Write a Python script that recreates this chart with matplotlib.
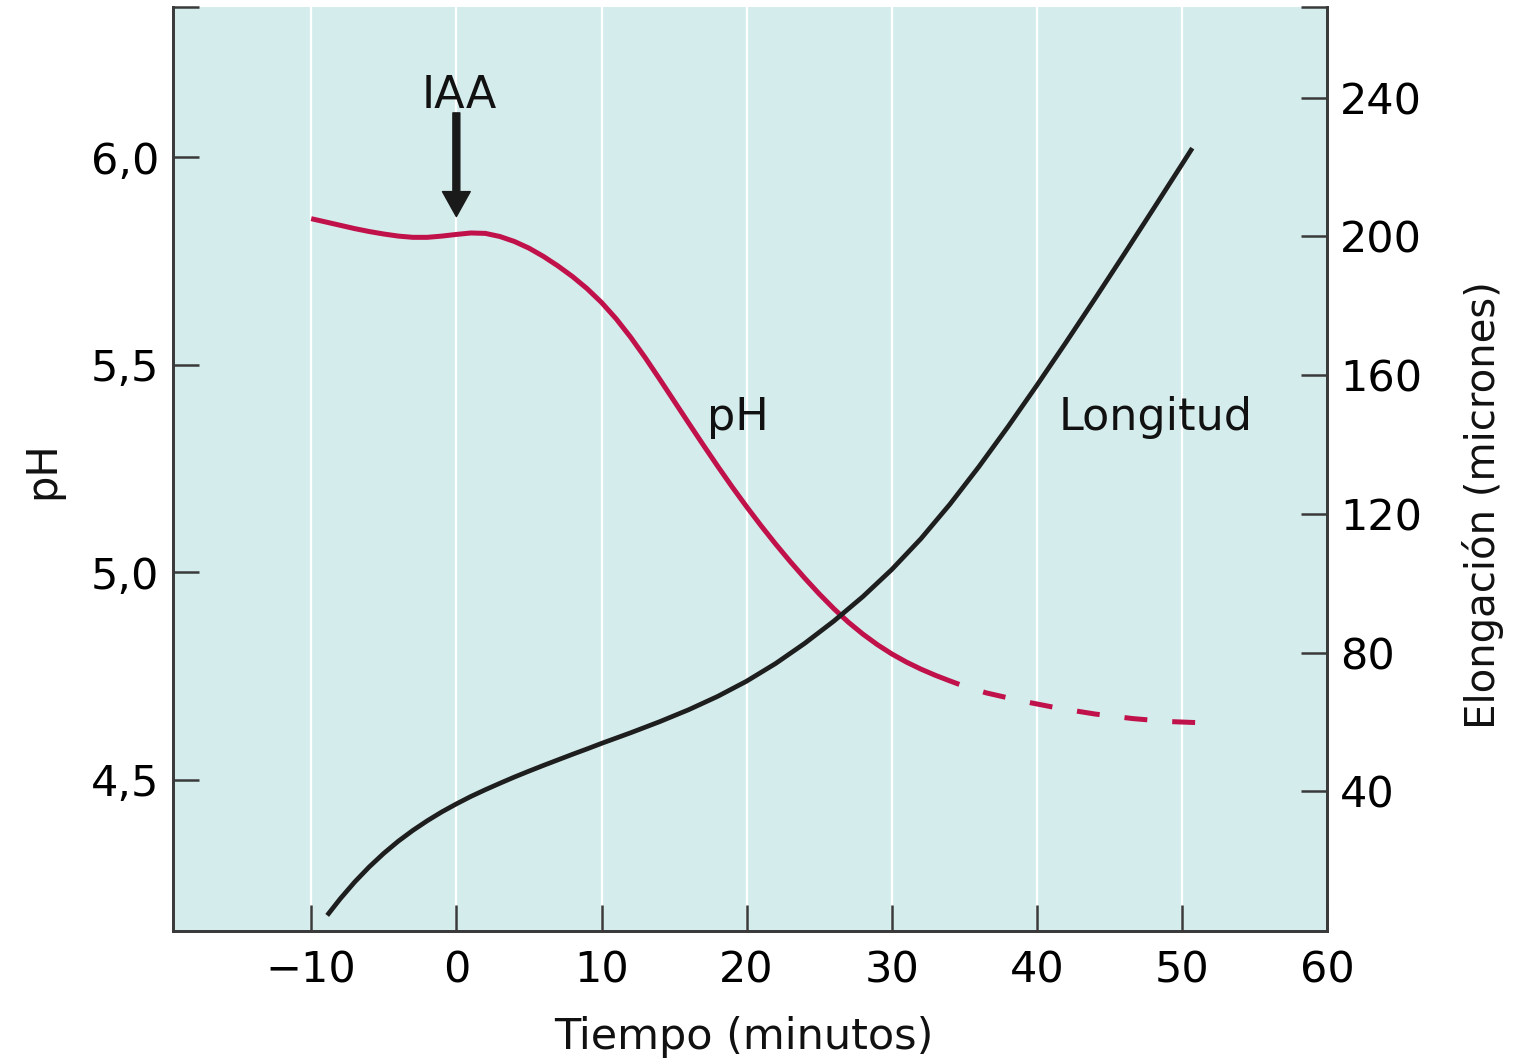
import matplotlib
matplotlib.use("Agg")
import matplotlib.pyplot as plt

plt.rcParams['font.family'] = ['DejaVu Sans']
plt.rcParams['lines.scale_dashes'] = False

# ---- data ----
ph_time_solid = [-10, -9, -8, -7, -6, -5, -4, -3, -2, -1, 0, 1, 2, 3, 4, 5, 6, 7, 8, 9,
                 10, 11, 12, 13, 14, 15, 16, 17, 18, 19, 20, 21, 22, 23, 24, 25, 26,
                 27, 28, 29, 30, 31, 32, 33, 34, 34.65]
ph_solid = [5.852, 5.844, 5.836, 5.828, 5.821, 5.815, 5.810, 5.807, 5.807, 5.810,
            5.814, 5.8175, 5.8165, 5.809, 5.797, 5.781, 5.761, 5.738, 5.7125, 5.6835,
            5.650, 5.611, 5.5665, 5.5175, 5.4655, 5.4125, 5.3595, 5.307, 5.2555, 5.2055,
            5.1575, 5.1115, 5.0675, 5.0255, 4.9855, 4.9475, 4.912, 4.8795, 4.8508, 4.8253,
            4.8028, 4.7833, 4.7663, 4.7513, 4.7378, 4.7294]
ph_time_dashed = [34.65, 36.5, 39, 41.5, 44, 46.6, 49, 52]
ph_dashed = [4.7294, 4.709, 4.689, 4.672, 4.658, 4.647, 4.640, 4.636]

elong_time = [-8.9, -8, -7, -6, -5, -4, -3, -2, -1, 0, 1, 2, 3, 4, 5, 6, 7, 8, 9, 10,
              12, 14, 16, 18, 20, 22, 24, 26, 28, 30, 32, 34, 36, 38, 40, 42, 44,
              46, 48, 50, 50.7]
elong = [4.2, 9.0, 13.85, 18.2, 22.1, 25.6, 28.7, 31.5, 34.05, 36.35, 38.5, 40.45,
         42.3, 44.1, 45.8, 47.45, 49.05, 50.65, 52.2, 53.8, 56.85, 60.05, 63.5, 67.35,
         71.75, 76.85, 82.65, 89.05, 96.1, 103.95, 112.8, 122.75, 133.6, 145.1, 157.1,
         169.45, 182.05, 194.85, 207.8, 220.85, 225.45]

x_ticks = [-10, 0, 10, 20, 30, 40, 50, 60]
x_ticklabels = ['\u221210', '0', '10', '20', '30', '40', '50', '60']
ph_ticks = [4.5, 5.0, 5.5, 6.0]
ph_ticklabels = ['4,5', '5,0', '5,5', '6,0']
el_ticks = [40, 80, 120, 160, 200, 240]
el_ticklabels = ['40', '80', '120', '160', '200', '240']

# ---- style ----
BG = '#d5ecec'
RED = '#c0114b'
BLK = '#1e1e1e'
SPINE = '#3a3a3a'
FS = 31

fig = plt.figure(figsize=(15.18, 10.62), dpi=100)
ax = fig.add_axes([0.11417, 0.12335, 0.87437 - 0.11417, 0.99294 - 0.12335])
ax.set_facecolor(BG)
ax2 = ax.twinx()

ax.set_xlim(-19.5, 60)
ax.set_ylim(4.135, 6.361)
ax2.set_ylim(-0.3, 266)

for a in (ax, ax2):
    a.spines['top'].set_visible(False)
    for s in ('left', 'right', 'bottom'):
        a.spines[s].set_color(SPINE)
        a.spines[s].set_linewidth(2.0)

# grid
ax.set_xticks(x_ticks)
ax.set_xticklabels(x_ticklabels)
ax.grid(axis='x', color='white', linewidth=1.6)
ax.set_axisbelow(True)
ax.xaxis.get_gridlines()[-1].set_visible(False)

ax.set_yticks(ph_ticks)
ax.set_yticklabels(ph_ticklabels)
ax.set_yticks([6.361], minor=True)
ax2.set_yticks(el_ticks)
ax2.set_yticklabels(el_ticklabels)
ax2.set_yticks([266], minor=True)

ax.tick_params(axis='x', which='major', direction='in', length=18.5, width=1.8,
               color=SPINE, labelsize=FS, pad=13.5, top=False)
ax.tick_params(axis='y', which='major', direction='in', length=18.7, width=1.8,
               color=SPINE, labelsize=FS, pad=10, right=False)
ax.tick_params(axis='y', which='minor', direction='in', length=18.7, width=1.8,
               color=SPINE, right=False)
ax2.tick_params(axis='y', which='major', direction='in', length=18.7, width=1.8,
                color=SPINE, labelsize=FS, pad=9, left=False)
ax2.tick_params(axis='y', which='minor', direction='in', length=18.7, width=1.8,
                color=SPINE, left=False)

# curves
ax.plot(ph_time_solid, ph_solid, color=RED, lw=3.6, solid_capstyle='butt',
        solid_joinstyle='round', zorder=3)
ax.plot(ph_time_dashed, ph_dashed, color=RED, lw=3.6,
        linestyle=(16.5, (16.5, 18)), dash_capstyle='butt', zorder=3)
ax2.plot(elong_time, elong, color=BLK, lw=3.4, solid_capstyle='butt',
         solid_joinstyle='round', zorder=3)

# annotations
ax.text(0.2, 6.118, 'IAA', fontsize=32, ha='center', va='baseline', color='#111')
ax.annotate('', xy=(0, 5.857), xytext=(0, 6.107),
            arrowprops=dict(arrowstyle='simple,head_width=1.0,head_length=0.9,tail_width=0.25',
                            mutation_scale=20, color='#1a1a1a', shrinkA=0, shrinkB=0))
ax.text(17.3, 5.343, 'pH', fontsize=32, ha='left', va='baseline', color='#111')
ax.text(41.5, 5.343, 'Longitud', fontsize=32, ha='left', va='baseline', color='#111')

# axis labels
ax.set_xlabel('Tiempo (minutos)', fontsize=FS, color='#111')
ax.xaxis.label.set_verticalalignment('center')
ax.xaxis.set_label_coords(0.4945, -0.1148)
ax.set_ylabel('pH', fontsize=30, color='#111')
ax.yaxis.label.set_verticalalignment('center')
ax.yaxis.set_label_coords(-0.1138, 0.4992)
ax2.set_ylabel('Elongación (micrones)', fontsize=29, color='#111')
ax2.yaxis.label.set_verticalalignment('center')
ax2.yaxis.set_label_coords(1.1349, 0.4613)

fig.savefig('out.png', dpi=100)
